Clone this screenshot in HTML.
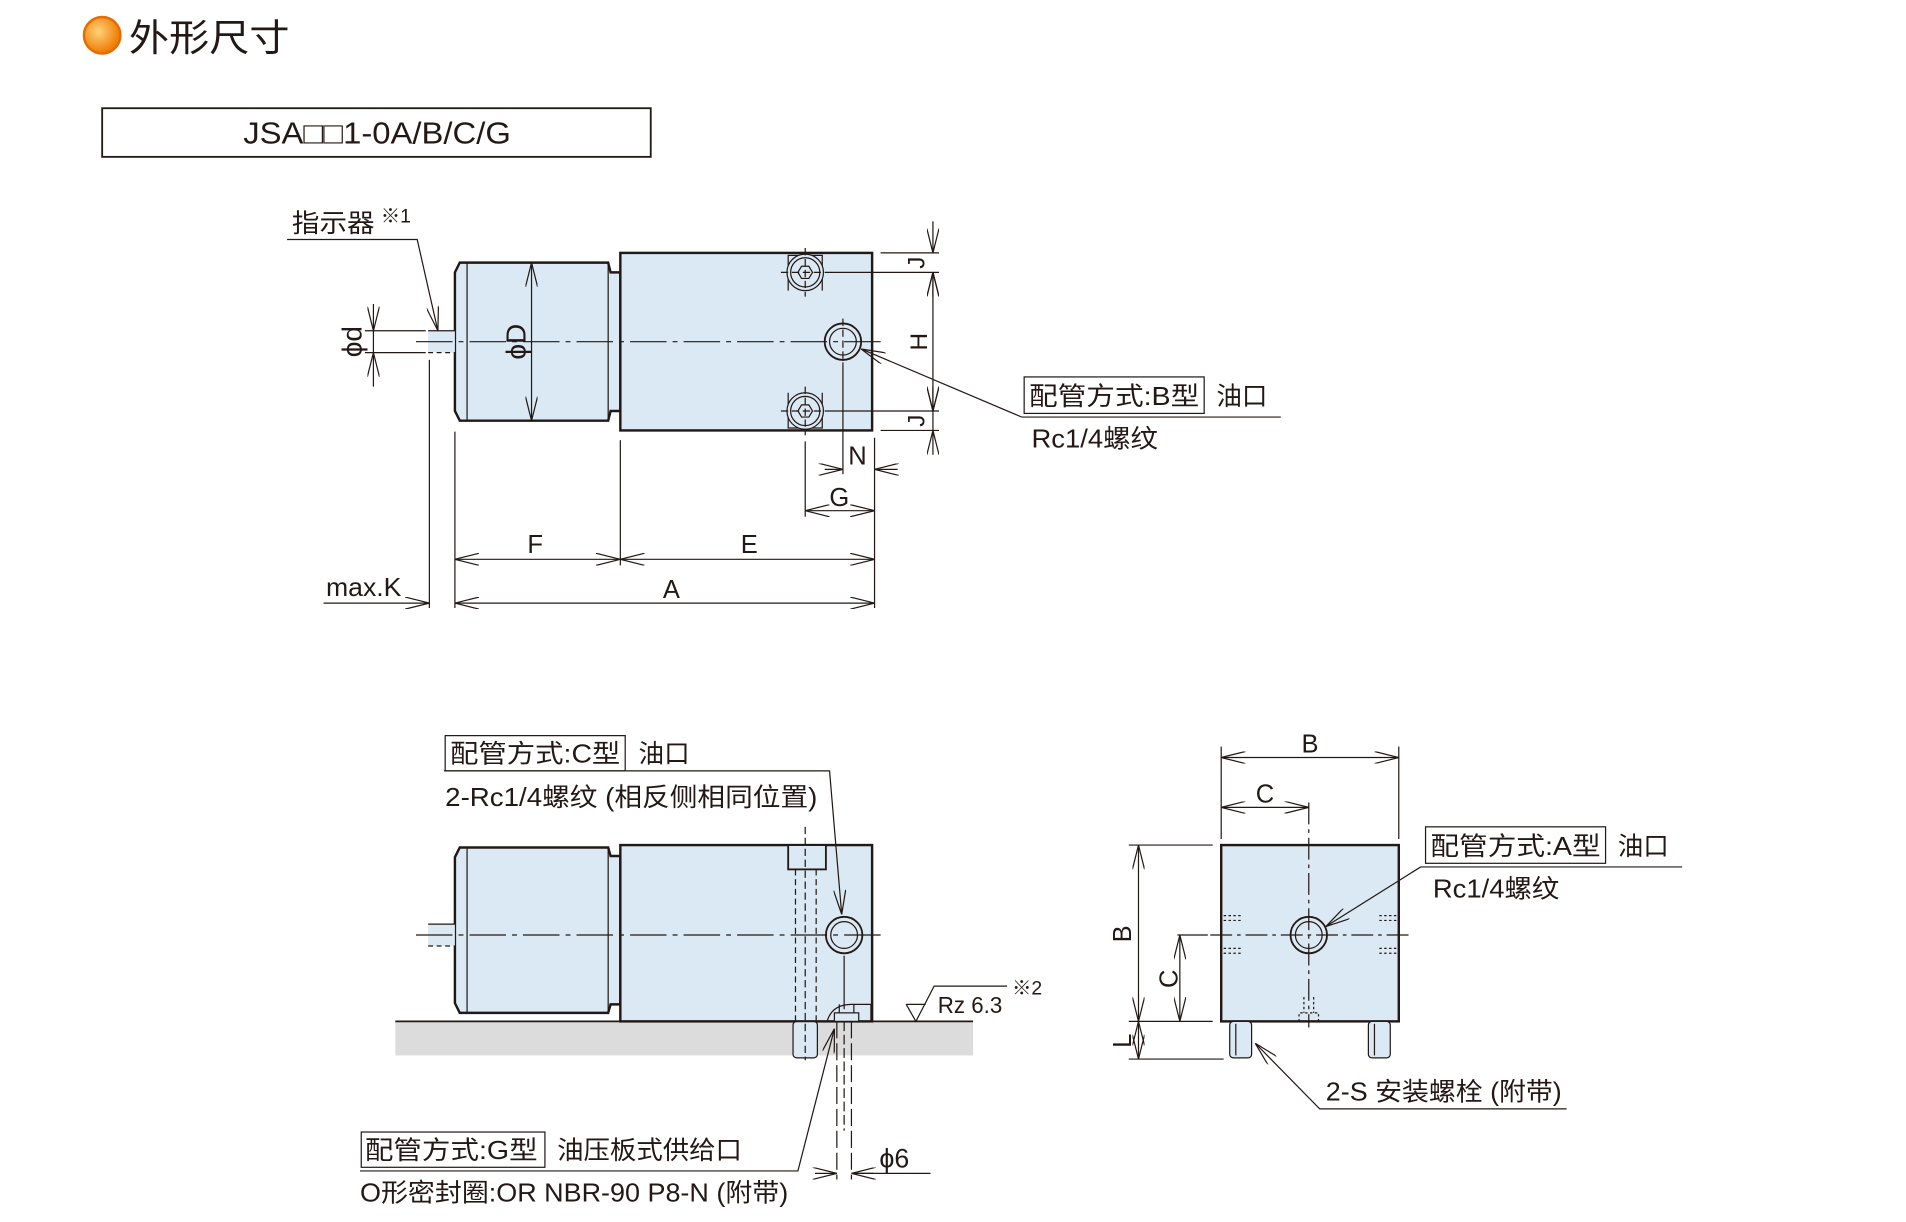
<!DOCTYPE html>
<html><head><meta charset="utf-8"><style>
html,body{margin:0;padding:0;background:#fff}
svg{display:block}
text{font-family:"Liberation Sans","Noto Sans CJK SC",sans-serif;fill:#231815}
</style></head><body>
<svg width="1906" height="1222" viewBox="0 0 1567 1005" preserveAspectRatio="none" xmlns="http://www.w3.org/2000/svg">
<defs>
<marker id="a" viewBox="0 0 20 10" refX="20" refY="5" markerWidth="20" markerHeight="10" markerUnits="userSpaceOnUse" orient="auto-start-reverse">
<polyline points="0,0 20,5 0,10" fill="none" stroke="#231815" stroke-width="1"/></marker>
<radialGradient id="og" cx="0.4" cy="0.4" r="0.6"><stop offset="0" stop-color="#ffd27a"/><stop offset="1" stop-color="#ee7a00"/></radialGradient>
</defs>
<g stroke="#231815" fill="none">
<circle cx="84" cy="29" r="15" fill="url(#og)" stroke="#e36d00" stroke-width="2"/>
<rect x="84" y="89" width="451" height="40" stroke-width="1.5"/>
</g>
<text x="106" y="42" font-size="31" textLength="132" lengthAdjust="spacingAndGlyphs">外形尺寸</text>
<text x="200" y="118" font-size="25" textLength="220" lengthAdjust="spacingAndGlyphs">JSA□□1-0A/B/C/G</text>

<!-- ===== TOP VIEW ===== -->
<g stroke="#231815" stroke-width="1" fill="#dae9f3">
<polygon points="378,216 500,216 502,224 510,224 510,338 502,338 500,346 378,346 374,338 374,224" stroke-width="2"/>
<rect x="510" y="208" width="207" height="146" stroke-width="2"/>
<rect x="352" y="272" width="22" height="18" fill="#dae9f3" stroke="none"/>
</g>
<g stroke="#231815" fill="none" stroke-width="1">
<line x1="352" y1="272" x2="374" y2="272"/>
<line x1="352" y1="290" x2="374" y2="290" stroke-dasharray="4,3"/>
<line x1="384" y1="216" x2="384" y2="346"/>
<line x1="500" y1="216" x2="500" y2="346"/>
<line x1="342" y1="281" x2="725" y2="281" stroke-dasharray="30,5,4,5"/>
<path d="M648,239 V210 H676 V239" /><path d="M648,323 V352 H676 V323"/>
<circle cx="662" cy="224" r="15" fill="#dae9f3"/><circle cx="662" cy="224" r="12"/>
<polygon points="656,224 659,219 665,219 668,224 665,229 659,229"/>
<circle cx="662" cy="338" r="15" fill="#dae9f3"/><circle cx="662" cy="338" r="12"/>
<polygon points="656,338 659,333 665,333 668,338 665,343 659,343"/>
<line x1="662" y1="204" x2="662" y2="244" stroke-dasharray="6,3"/>
<line x1="662" y1="318" x2="662" y2="358" stroke-dasharray="6,3"/>
<line x1="642" y1="224" x2="682" y2="224" stroke-dasharray="6,3"/>
<line x1="642" y1="338" x2="682" y2="338" stroke-dasharray="6,3"/>
<circle cx="693" cy="281" r="15" stroke-width="1.5"/><circle cx="693" cy="281" r="11"/>
<line x1="693" y1="262" x2="693" y2="300" stroke-dasharray="6,3"/>
<line x1="682" y1="224" x2="772" y2="224"/><line x1="682" y1="338" x2="772" y2="338"/>
<line x1="724" y1="208" x2="772" y2="208"/><line x1="724" y1="354" x2="772" y2="354"/>
<line x1="767" y1="182" x2="767" y2="208" marker-end="url(#a)"/>
<line x1="767" y1="244" x2="767" y2="224" marker-end="url(#a)"/>
<line x1="767" y1="224" x2="767" y2="338" marker-start="url(#a)" marker-end="url(#a)"/>
<line x1="767" y1="318" x2="767" y2="338" marker-end="url(#a)"/>
<line x1="767" y1="374" x2="767" y2="354" marker-end="url(#a)"/>
<line x1="767" y1="338" x2="767" y2="354"/>
<line x1="662" y1="363" x2="662" y2="425"/>
<line x1="693" y1="300" x2="693" y2="390"/>
<line x1="719" y1="360" x2="719" y2="500"/>
<line x1="678" y1="386" x2="693" y2="386" marker-end="url(#a)"/>
<line x1="738" y1="386" x2="719" y2="386" marker-end="url(#a)"/>
<line x1="662" y1="420" x2="719" y2="420" marker-start="url(#a)" marker-end="url(#a)"/>
<line x1="374" y1="355" x2="374" y2="500"/>
<line x1="510" y1="362" x2="510" y2="465"/>
<line x1="353" y1="296" x2="353" y2="500"/>
<line x1="374" y1="460" x2="510" y2="460" marker-start="url(#a)" marker-end="url(#a)"/>
<line x1="510" y1="460" x2="719" y2="460" marker-start="url(#a)" marker-end="url(#a)"/>
<line x1="374" y1="496" x2="719" y2="496" marker-start="url(#a)" marker-end="url(#a)"/>
<line x1="266" y1="496" x2="353" y2="496" marker-end="url(#a)"/>
<line x1="300" y1="272" x2="350" y2="272"/><line x1="300" y1="290" x2="350" y2="290"/>
<line x1="307" y1="250" x2="307" y2="272" marker-end="url(#a)"/>
<line x1="307" y1="318" x2="307" y2="290" marker-end="url(#a)"/>
<line x1="307" y1="272" x2="307" y2="290"/>
<line x1="437" y1="216" x2="437" y2="346" marker-start="url(#a)" marker-end="url(#a)"/>
<polyline points="236,197 343,197 360,272" marker-end="url(#a)"/>
<line x1="840" y1="343" x2="708" y2="287" marker-end="url(#a)"/>
<line x1="840" y1="343" x2="1053" y2="343"/>
<rect x="842" y="310" width="148" height="30"/>
</g>
<text x="240" y="191" font-size="21" textLength="68" lengthAdjust="spacingAndGlyphs">指示器</text><text x="313" y="183" font-size="16">※1</text>
<text transform="translate(297,281) rotate(-90)" font-size="23" text-anchor="middle">ϕd</text>
<text transform="translate(432,281) rotate(-90)" font-size="23" text-anchor="middle">ϕD</text>
<text transform="translate(760,216) rotate(-90)" font-size="20" text-anchor="middle">J</text>
<text transform="translate(760,346) rotate(-90)" font-size="20" text-anchor="middle">J</text>
<text transform="translate(762,281) rotate(-90)" font-size="20" text-anchor="middle">H</text>
<text x="705" y="382" font-size="21" text-anchor="middle">N</text>
<text x="690" y="416" font-size="21" text-anchor="middle">G</text>
<text x="440" y="455" font-size="21" text-anchor="middle">F</text>
<text x="616" y="455" font-size="21" text-anchor="middle">E</text>
<text x="552" y="492" font-size="21" text-anchor="middle">A</text>
<text x="268" y="490" font-size="21" textLength="62" lengthAdjust="spacingAndGlyphs">max.K</text>
<text x="846" y="333" font-size="21" textLength="140" lengthAdjust="spacingAndGlyphs">配管方式:B型</text><text x="1000" y="333" font-size="21">油口</text>
<text x="848" y="368" font-size="21" textLength="104" lengthAdjust="spacingAndGlyphs">Rc1/4螺纹</text>

<!-- ===== SIDE VIEW ===== -->
<rect x="325" y="840" width="475" height="28" fill="#dcdcdc"/>
<g stroke="#231815" stroke-width="1" fill="#dae9f3">
<polygon points="378,704 500,704 502,711 510,711 510,833 502,833 500,840 378,840 374,832 374,712" stroke-width="2" transform="translate(0,-7)"/>
<rect x="510" y="695" width="207" height="145" stroke-width="2"/>
<rect x="352" y="760" width="22" height="18" stroke="none"/>
<rect x="652" y="840" width="20" height="30" rx="3"/>
</g>
<g stroke="#231815" fill="none" stroke-width="1">
<line x1="325" y1="840" x2="800" y2="840" stroke-width="1.5"/>
<line x1="352" y1="760" x2="374" y2="760"/><line x1="352" y1="778" x2="374" y2="778" stroke-dasharray="4,3"/>
<line x1="384" y1="697" x2="384" y2="833"/><line x1="500" y1="697" x2="500" y2="833"/>
<line x1="342" y1="769" x2="725" y2="769" stroke-dasharray="30,5,4,5"/>
<rect x="648" y="695" width="31" height="20" fill="#dae9f3" stroke-width="1.5"/>
<line x1="654" y1="715" x2="654" y2="840" stroke-dasharray="5,3"/>
<line x1="671" y1="715" x2="671" y2="840" stroke-dasharray="5,3"/>
<line x1="662" y1="680" x2="662" y2="872" stroke-dasharray="6,3"/>
<circle cx="694" cy="769" r="15" stroke-width="1.5"/><circle cx="694" cy="769" r="11"/>
<line x1="694" y1="786" x2="694" y2="830"/>
<path d="M680,840 Q684,826 700,826 H716 V840"/>
<rect x="686" y="833" width="20" height="7" fill="#dae9f3"/>
<line x1="690" y1="826" x2="690" y2="833"/><line x1="702" y1="826" x2="702" y2="833"/>
<line x1="688" y1="840" x2="688" y2="970" stroke-dasharray="14,4"/>
<line x1="700" y1="840" x2="700" y2="970" stroke-dasharray="14,4"/>
<line x1="694" y1="840" x2="694" y2="930" stroke-dasharray="8,3"/>
<line x1="670" y1="965" x2="688" y2="965" marker-end="url(#a)"/>
<line x1="718" y1="965" x2="700" y2="965" marker-end="url(#a)"/>
<line x1="700" y1="965" x2="765" y2="965"/>
<polyline points="365,634 682,634 692,752" marker-end="url(#a)"/>
<rect x="366" y="605" width="148" height="29"/>
<polyline points="296,963 656,963 686,846" marker-end="url(#a)"/>
<rect x="297" y="931" width="151" height="29"/>
<polyline points="745,826 753,840 768,811 828,811"/>
<line x1="745" y1="826" x2="761" y2="826"/>
</g>
<text x="370" y="627" font-size="21" textLength="140" lengthAdjust="spacingAndGlyphs">配管方式:C型</text><text x="525" y="627" font-size="21">油口</text>
<text x="366" y="663" font-size="21" textLength="306" lengthAdjust="spacingAndGlyphs">2-Rc1/4螺纹 (相反侧相同位置)</text>
<text x="300" y="953" font-size="21" textLength="142" lengthAdjust="spacingAndGlyphs">配管方式:G型</text><text x="458" y="953" font-size="21" textLength="152" lengthAdjust="spacingAndGlyphs">油压板式供给口</text>
<text x="296" y="988" font-size="21" textLength="352" lengthAdjust="spacingAndGlyphs">O形密封圈:OR NBR-90 P8-N (附带)</text>
<text x="723" y="960" font-size="22">ϕ6</text>
<text x="771" y="833" font-size="19" textLength="53" lengthAdjust="spacingAndGlyphs">Rz 6.3</text><text x="832" y="818" font-size="16">※2</text>

<!-- ===== END VIEW ===== -->
<g stroke="#231815" stroke-width="1" fill="#dae9f3">
<rect x="1004" y="695" width="146" height="145" stroke-width="2"/>
<rect x="1011" y="840" width="18" height="30" rx="3"/>
<rect x="1125" y="840" width="18" height="30" rx="3"/>
</g>
<g stroke="#231815" fill="none" stroke-width="1">
<line x1="1016" y1="842" x2="1016" y2="868"/><line x1="1130" y1="842" x2="1130" y2="868"/>
<line x1="1076" y1="660" x2="1076" y2="845" stroke-dasharray="18,4,3,4"/>
<line x1="995" y1="769" x2="1160" y2="769" stroke-dasharray="18,4,3,4"/>
<circle cx="1076" cy="769" r="15" stroke-width="1.5"/><circle cx="1076" cy="769" r="11"/>
<g stroke-dasharray="2,2"><line x1="1006" y1="753" x2="1020" y2="753"/><line x1="1006" y1="757" x2="1020" y2="757"/>
<line x1="1006" y1="780" x2="1020" y2="780"/><line x1="1006" y1="784" x2="1020" y2="784"/>
<line x1="1134" y1="753" x2="1148" y2="753"/><line x1="1134" y1="757" x2="1148" y2="757"/>
<line x1="1134" y1="780" x2="1148" y2="780"/><line x1="1134" y1="784" x2="1148" y2="784"/>
<path d="M1068,840 V833 H1084 V840"/><line x1="1072" y1="820" x2="1072" y2="833"/><line x1="1080" y1="820" x2="1080" y2="833"/></g>
<line x1="1004" y1="614" x2="1004" y2="690"/><line x1="1150" y1="614" x2="1150" y2="690"/>
<line x1="1004" y1="623" x2="1150" y2="623" marker-start="url(#a)" marker-end="url(#a)"/>
<line x1="1004" y1="664" x2="1076" y2="664" marker-start="url(#a)" marker-end="url(#a)"/>
<line x1="928" y1="695" x2="997" y2="695"/><line x1="928" y1="840" x2="997" y2="840"/>
<line x1="928" y1="871" x2="1006" y2="871"/><line x1="968" y1="769" x2="993" y2="769"/>
<line x1="936" y1="695" x2="936" y2="840" marker-start="url(#a)" marker-end="url(#a)"/>
<line x1="970" y1="769" x2="970" y2="840" marker-start="url(#a)" marker-end="url(#a)"/>
<line x1="936" y1="840" x2="936" y2="871" marker-start="url(#a)" marker-end="url(#a)"/>
<line x1="1168" y1="713" x2="1090" y2="762" marker-end="url(#a)"/>
<line x1="1168" y1="713" x2="1383" y2="713"/>
<rect x="1172" y="680" width="148" height="30"/>
<polyline points="1288,912 1085,912 1032,858" marker-end="url(#a)"/>
</g>
<text x="1077" y="619" font-size="21" text-anchor="middle">B</text>
<text x="1040" y="660" font-size="21" text-anchor="middle">C</text>
<text transform="translate(930,768) rotate(-90)" font-size="21" text-anchor="middle">B</text>
<text transform="translate(968,805) rotate(-90)" font-size="21" text-anchor="middle">C</text>
<text transform="translate(930,856) rotate(-90)" font-size="21" text-anchor="middle">L</text>
<text x="1176" y="703" font-size="21" textLength="140" lengthAdjust="spacingAndGlyphs">配管方式:A型</text><text x="1330" y="703" font-size="21">油口</text>
<text x="1178" y="738" font-size="21" textLength="104" lengthAdjust="spacingAndGlyphs">Rc1/4螺纹</text>
<text x="1090" y="905" font-size="21" textLength="194" lengthAdjust="spacingAndGlyphs">2-S 安装螺栓 (附带)</text>
</svg>
</body></html>
